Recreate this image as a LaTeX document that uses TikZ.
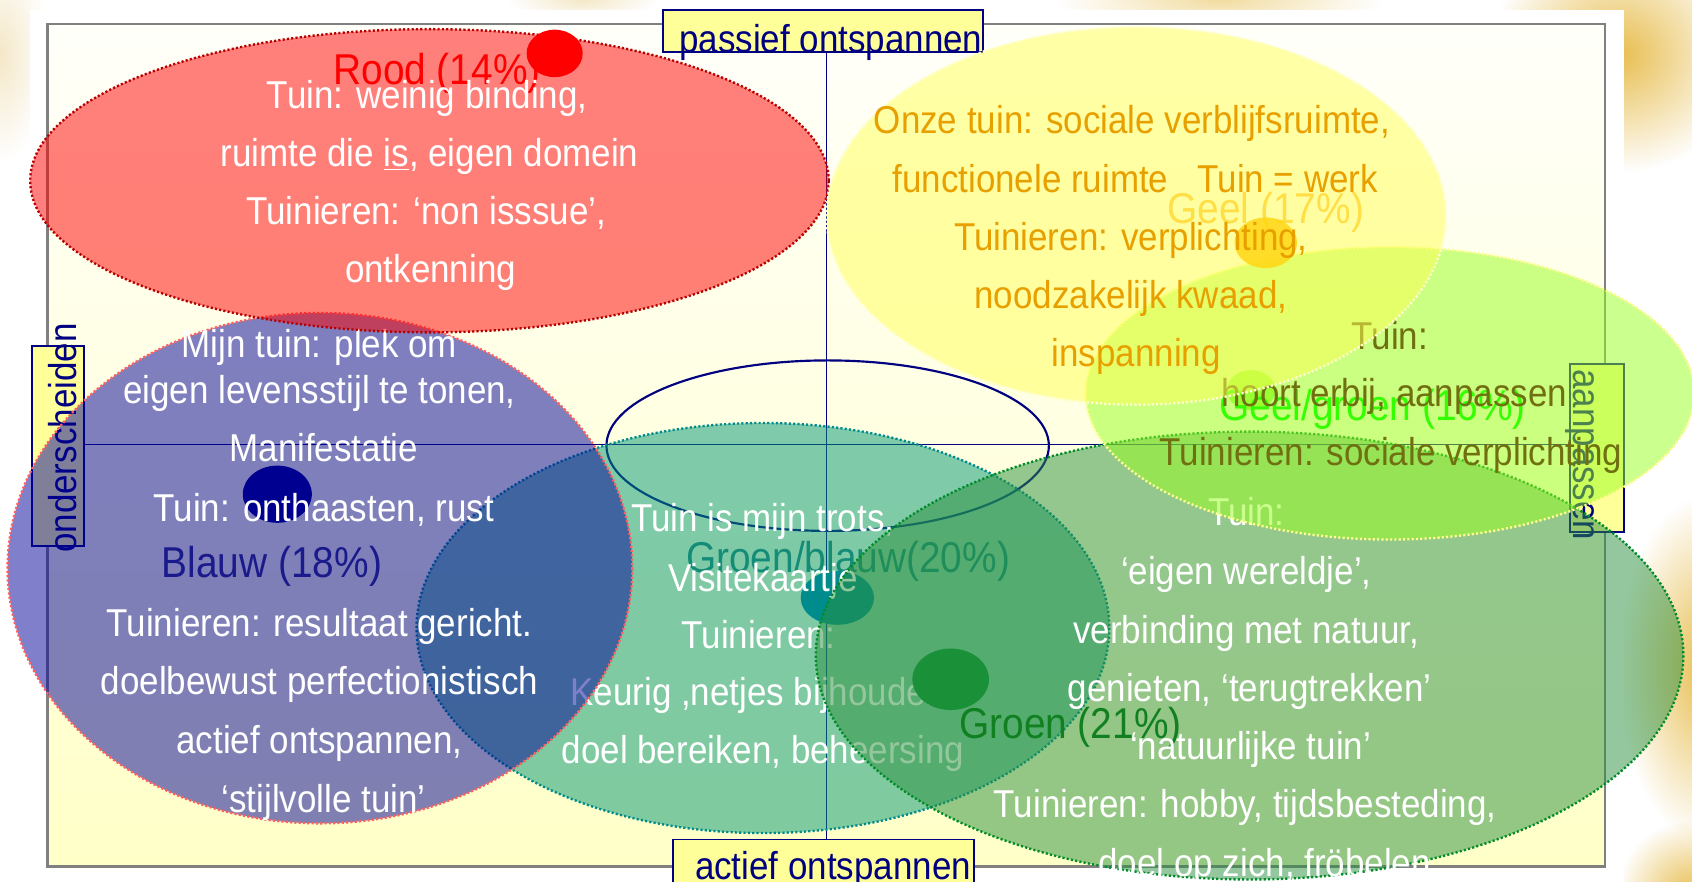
\documentclass[tikz,border=0pt]{standalone}
\usepackage{fontspec}
\setmainfont{Liberation Sans}[FakeStretch=0.9]
\usetikzlibrary{fadings}
\tikzfading[name=softglow, inner color=transparent!0, outer color=transparent!100]
\definecolor{navyx}{RGB}{0,0,128}
\definecolor{axyel}{RGB}{255,255,153}
\definecolor{frtop}{RGB}{255,255,250}
\definecolor{frbot}{RGB}{255,255,200}
\definecolor{redfill}{RGB}{255,0,0}
\definecolor{redline}{RGB}{185,0,0}
\definecolor{bluefill}{RGB}{0,0,153}
\definecolor{blueline}{RGB}{255,96,96}
\definecolor{bluedot}{RGB}{0,0,144}
\definecolor{bluelbl}{RGB}{26,26,140}
\definecolor{tealfill}{RGB}{0,150,115}
\definecolor{tealline}{RGB}{0,140,140}
\definecolor{tealdot}{RGB}{0,140,140}
\definecolor{teallbl}{RGB}{20,140,120}
\definecolor{greenfill}{RGB}{42,144,62}
\definecolor{greenline}{RGB}{0,140,40}
\definecolor{greendot}{RGB}{26,144,56}
\definecolor{greenlbl}{RGB}{16,128,32}
\definecolor{yelfill}{RGB}{255,255,85}
\definecolor{yelline}{RGB}{255,255,205}
\definecolor{yeldot}{RGB}{255,215,20}
\definecolor{yellbl}{RGB}{255,222,70}
\definecolor{orangetxt}{RGB}{232,160,0}
\definecolor{limefill}{RGB}{153,255,30}
\definecolor{limeline}{RGB}{255,255,140}
\definecolor{limedot}{RGB}{153,255,51}
\definecolor{limelbl}{RGB}{51,255,0}
\definecolor{olivetxt}{RGB}{112,112,16}
\definecolor{gold}{RGB}{232,190,80}
\definecolor{paleglow}{RGB}{242,220,160}
\definecolor{beigeglow}{RGB}{245,232,200}
\begin{document}
\begin{tikzpicture}[x=0.5pt,y=-0.5pt,
  txt/.style={font=\fontsize{18}{20}\selectfont, inner sep=0pt, text height=13pt, text depth=4pt, yshift=-2pt},
  wtxt/.style={txt, text=white},
  lbl/.style={font=\fontsize{20}{22}\selectfont, inner sep=0pt, text height=14.5pt, text depth=4.5pt, yshift=-2pt},
  axbox/.style={draw=navyx, fill=axyel, line width=0.9pt},
  axtxt/.style={txt, text=navyx},
  rottxt/.style={font=\fontsize{18}{20}\selectfont, inner sep=0pt, text height=13pt, text depth=4pt, text=navyx},
  dotline/.style={line width=1.1pt, dash pattern=on 1pt off 1pt},
  glow/.style={fill=#1, path fading=softglow},
]
\useasboundingbox (0,0) rectangle (1568,817);
\fill[white] (0,0) rectangle (1568,817);
% decorative glow outside the panel
\fill[glow=gold] (1500,50) ellipse [x radius=120, y radius=110];
\fill[glow=paleglow] (1130,0) ellipse [x radius=150, y radius=30];
\fill[glow=gold] (1580,620) ellipse [x radius=80, y radius=160];
\fill[glow=gold] (1568,830) ellipse [x radius=70, y radius=70];
\fill[glow=beigeglow] (0,50) ellipse [x radius=45, y radius=100];
\fill[glow=beigeglow] (540,0) ellipse [x radius=70, y radius=18];
% panel and frame
\fill[white] (28,9) rectangle (1505,817);
\shade[top color=frtop, bottom color=frbot] (44,22) rectangle (1487,803);
\draw[gray, line width=1pt] (44,22) rectangle (1487,803);
% axes
\coordinate (vt) at (766,9);
\coordinate (vb) at (766,778);
\coordinate (hl) at (78,412);
\coordinate (hr) at (1455,412);
\draw[navyx, line width=0.6pt] (vt) -- (vb);
\draw[navyx, line width=0.6pt] (hl) -- (hr);
% axis labels
\draw[axbox] (614,9) rectangle (911,48.5);
\node[axtxt] (passief) at (770,36) {passief ontspannen};
\draw[axbox] (624,778) rectangle (903,830);
\node[axtxt] (actief) at (772,802) {actief ontspannen};
\draw[axbox] (30,321) rectangle (78,506);
\node[rottxt, rotate=90] (ondersch) at (61.5,406) {onderscheiden};
\draw[axbox] (1455,337) rectangle (1505,493);
\node[rottxt, rotate=-90] (aanp) at (1467,421.5) {aanpassen};
% central outline ellipse
\draw[navyx, line width=1pt] (767,413) ellipse [x radius=205, y radius=79];
% Groen/blauw
\filldraw[fill=tealfill, fill opacity=0.5, draw=tealline, dotline] (707,582) ellipse [x radius=321, y radius=190];
\fill[tealdot] (776,554) ellipse [x radius=34, y radius=25];
\node[lbl, text=teallbl] (gblbl) at (786,517) {Groen/blauw(20\%)};
\node[wtxt] (t1) at (707,480) {Tuin is mijn trots,};
\node[wtxt] (t2) at (707,535) {Visitekaartje};
\node[wtxt] (t3) at (703,588) {Tuinieren:};
\node[wtxt] (t4) at (707,641) {Keurig ,netjes bijhouden,};
\node[wtxt] (t5) at (707,695) {doel bereiken, beheersing};
% Blauw
\filldraw[fill=bluefill, fill opacity=0.5, draw=blueline, dotline] (296.5,526.5) ellipse [x radius=289.5, y radius=236.5];
\fill[bluedot] (257,458) ellipse [x radius=32, y radius=26.5];
\node[lbl, text=bluelbl] (blbl) at (252,521) {Blauw (18\%)};
\node[wtxt] (b1) at (296,318) {Mijn tuin: plek om};
\node[wtxt] (b2) at (296,361) {eigen levensstijl te tonen,};
\node[wtxt] (b3) at (300,415) {Manifestatie};
\node[wtxt] (b4) at (300,470) {Tuin: onthaasten, rust};
\node[wtxt] (b5) at (296,577) {Tuinieren: resultaat gericht.};
\node[wtxt] (b6) at (296,631) {doelbewust perfectionistisch};
\node[wtxt] (b7) at (296,685) {actief ontspannen,};
\node[wtxt] (b8) at (300,740) {‘stijlvolle tuin’};
% Rood
\filldraw[fill=redfill, fill opacity=0.5, draw=redline, dotline] (398,167.5) ellipse [x radius=370, y radius=140.5];
\node[lbl, text=red] (rlbl) at (405,64) {Rood (14\%)};
\fill[red] (514,49.5) ellipse [x radius=26, y radius=22];
\node[wtxt] (r1) at (396,88) {Tuin: weinig binding,};
\node[wtxt] (r2) at (398,141) {ruimte die \underline{is}, eigen domein};
\node[wtxt] (r3) at (395,195) {Tuinieren: ‘non isssue’,};
\node[wtxt] (r4) at (399,249) {ontkenning};
% Groen
\filldraw[fill=greenfill, fill opacity=0.5, draw=greenline, dotline] (1158,607.5) ellipse [x radius=402, y radius=207.5];
\fill[greendot] (881,629.5) ellipse [x radius=35.5, y radius=28.5];
\node[lbl, text=greenlbl] (glbl) at (992,670) {Groen (21\%)};
\node[wtxt] (g1) at (1155,474) {Tuin:};
\node[wtxt] (g2) at (1155,529) {‘eigen wereldje’,};
\node[wtxt] (g3) at (1155,583) {verbinding met natuur,};
\node[wtxt] (g4) at (1158,637) {genieten, ‘terugtrekken’};
\node[wtxt] (g5) at (1159,691) {‘natuurlijke tuin’};
\node[wtxt] (g6) at (1154,745) {Tuinieren: hobby, tijdsbesteding,};
\node[wtxt] (g7) at (1172,799) {doel op zich, fröbelen};
% Geel/groen
\filldraw[fill=limefill, fill opacity=0.5, draw=limeline, dotline] (1288,364.5) ellipse [x radius=282, y radius=135.5];
\fill[limedot] (1159.5,361.5) ellipse [x radius=22.5, y radius=18.5];
\node[lbl, text=limelbl] (llbl) at (1272,376) {Geel/groen (16\%)};
\node[txt, text=olivetxt] (l1) at (1288,311) {Tuin:};
\node[txt, text=olivetxt] (l2) at (1292,364) {hoort erbij, aanpassen};
\node[txt, text=olivetxt] (l3) at (1289,418) {Tuinieren: sociale verplichting};
% Geel
\filldraw[fill=yelfill, fill opacity=0.5, draw=yelline, dotline] (1053,200) ellipse [x radius=287, y radius=175];
\node[lbl, text=yellbl] (ylbl) at (1173,193) {Geel (17\%)};
\fill[yeldot, opacity=0.85] (1173,225) ellipse [x radius=29, y radius=23.5];
\node[txt, text=orangetxt] (y1) at (1049,111) {Onze tuin: sociale verblijfsruimte,};
\node[txt, text=orangetxt] (y2) at (1052,165) {functionele ruimte\ \ \ Tuin = werk};
\node[txt, text=orangetxt] (y3) at (1048,219) {Tuinieren: verplichting,};
\node[txt, text=orangetxt] (y4) at (1048,273) {noodzakelijk kwaad,};
\node[txt, text=orangetxt] (y5) at (1053,327) {inspanning};
\end{tikzpicture}
\end{document}
